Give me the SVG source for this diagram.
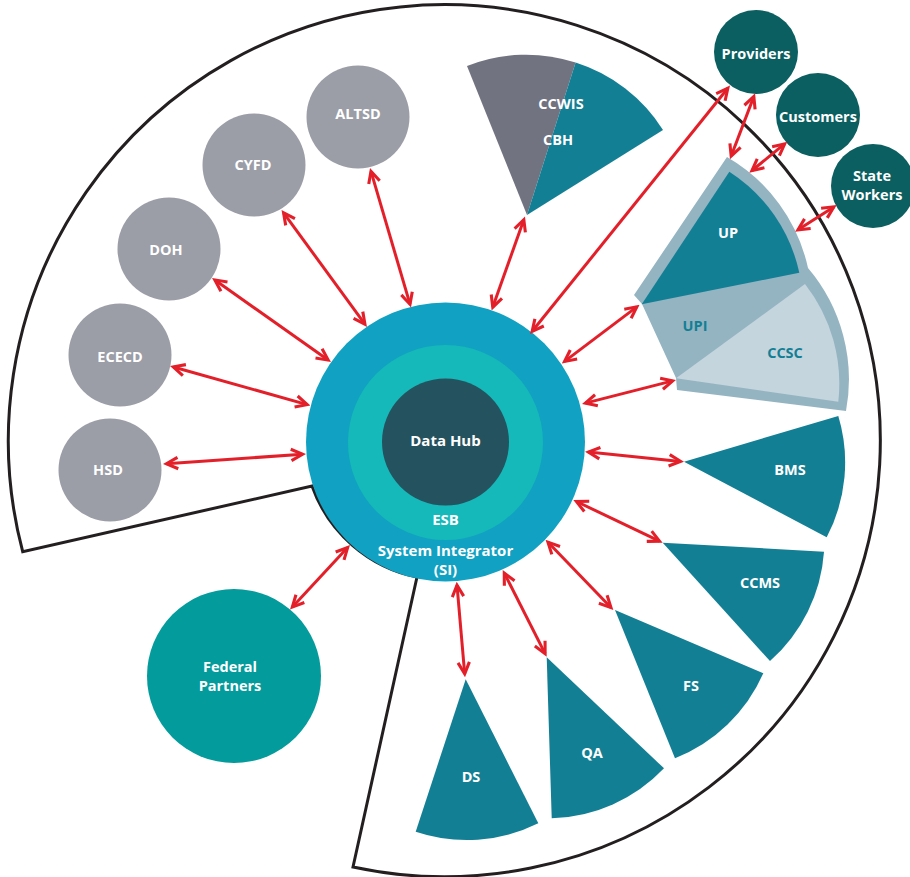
<svg xmlns="http://www.w3.org/2000/svg" width="910" height="877" viewBox="0 0 910 877">
<defs>
<style>
text{font-family:"Open Sans","Liberation Sans",sans-serif;font-weight:700;text-anchor:middle;fill:#ffffff;font-size:14.5px}
.hubt{font-size:15px}
.tl{fill:#137f94}
.agency{fill:#9b9da7}
.wedge{fill:#137f94}
.ext{fill:#0b5f60}
.conn line{stroke:#e3202a;stroke-width:3;marker-start:url(#ah);marker-end:url(#ah)}
</style>
<marker id="ah" viewBox="0 0 16 16" markerWidth="16" markerHeight="16" markerUnits="userSpaceOnUse" refX="12.5" refY="8" orient="auto-start-reverse">
<polygon points="16,8 1.8,0.9 0.4,3.7 9.3,8 0.4,12.3 1.8,15.1" fill="#e3202a"/>
</marker>
</defs>
<rect width="910" height="877" fill="#ffffff"/>
<path id="boundary" d="M22.7,551.7 A436,436 0 1 1 353,867 L417,577 A141,141 0 0 1 312,486 Z" fill="#ffffff" stroke="#231f20" stroke-width="3" stroke-linejoin="miter"/>

<g id="hub">
<circle cx="445.5" cy="442" r="139.5" fill="#11a1c2"/>
<circle cx="445.5" cy="442.5" r="97.5" fill="#15b9b9"/>
<circle cx="445.5" cy="442" r="63.5" fill="#24525e"/>
<text class="hubt" x="445.5" y="446">Data Hub</text>
<text class="hubt" x="445.5" y="525">ESB</text>
<text class="hubt" x="445.5" y="556">System Integrator</text>
<text class="hubt" x="445.5" y="575">(SI)</text>
</g>

<g id="altsd"><circle class="agency" cx="358" cy="117" r="51.5"/><text x="358" y="119">ALTSD</text></g>
<g id="cyfd"><circle class="agency" cx="254" cy="165" r="51.5"/><text x="253" y="170">CYFD</text></g>
<g id="doh"><circle class="agency" cx="169" cy="249" r="51.5"/><text x="166" y="255">DOH</text></g>
<g id="ececd"><circle class="agency" cx="120" cy="355" r="51.5"/><text x="120" y="362">ECECD</text></g>
<g id="hsd"><circle class="agency" cx="110" cy="470" r="51.5"/><text x="108" y="475">HSD</text></g>

<g id="federal"><circle cx="234" cy="676" r="87" fill="#039b9b"/><text x="230" y="672">Federal</text><text x="230" y="691">Partners</text></g>

<g id="providers"><circle class="ext" cx="756" cy="52" r="42"/><text x="756" y="59">Providers</text></g>
<g id="customers"><circle class="ext" cx="818" cy="115" r="42"/><text x="818" y="122">Customers</text></g>
<g id="stateworkers"><circle class="ext" cx="873" cy="186" r="42"/><text x="872" y="181">State</text><text x="872" y="200">Workers</text></g>

<g id="ccwis-cbh">
<path d="M527,215 L467,66 A160,160 0 0 1 575.6,62.6 Z" fill="#717380"/>
<path d="M527,215 L575.6,62.6 A160,160 0 0 1 663,130 Z" class="wedge"/>
<text x="561" y="109">CCWIS</text>
<text x="558" y="145">CBH</text>
</g>

<g id="up-group">
<path d="M634,295 L727,157 A170,170 0 0 1 808,268 A172,172 0 0 1 846,411 L677,390 L676,378 L642,304 Z" fill="#94b4c2"/>
<path d="M641.7,304.3 L729.3,171.7 A160,160 0 0 1 799.3,272.7 Z" class="wedge"/>
<path d="M676,378.3 L805,284 A162,162 0 0 1 838.3,401.7 Z" fill="#c5d5de"/>
<text x="728" y="238">UP</text>
<text class="tl" x="695" y="331">UPI</text>
<text class="tl" x="785" y="358">CCSC</text>
</g>

<g id="bms"><path class="wedge" d="M684,461.7 L838.3,416 A161,161 0 0 1 826.7,537.3 Z"/><text x="790" y="475">BMS</text></g>
<g id="ccms"><path class="wedge" d="M662.7,542.7 L824,551.7 A161,161 0 0 1 770,661 Z"/><text x="760" y="588">CCMS</text></g>
<g id="fs"><path class="wedge" d="M615,610 L763.3,673.3 A161,161 0 0 1 675,758.3 Z"/><text x="691" y="691">FS</text></g>
<g id="qa"><path class="wedge" d="M546.7,657.3 L664,768.3 A161,161 0 0 1 551.7,818.3 Z"/><text x="592" y="758">QA</text></g>
<g id="ds"><path class="wedge" d="M465.7,679.3 L538.3,823.3 A161,161 0 0 1 415.7,831.7 Z"/><text x="471" y="782">DS</text></g>

<g id="connectors" class="conn">
<line x1="166.5" y1="463.8" x2="302.5" y2="454.2"/>
<line x1="173.4" y1="367" x2="307.1" y2="404.6"/>
<line x1="214.9" y1="280" x2="328.1" y2="360"/>
<line x1="283.6" y1="212.8" x2="364.9" y2="324.2"/>
<line x1="371" y1="171.4" x2="410" y2="304.2"/>
<line x1="523.8" y1="219.7" x2="492.8" y2="307.1"/>
<line x1="727.8" y1="88.3" x2="532.2" y2="331.3"/>
<line x1="636.8" y1="306.9" x2="564.6" y2="361.4"/>
<line x1="672.6" y1="380.9" x2="585.4" y2="403.1"/>
<line x1="588.5" y1="452" x2="680.5" y2="461.4"/>
<line x1="576.5" y1="501.5" x2="659.5" y2="541.2"/>
<line x1="548" y1="542.2" x2="610.9" y2="607.5"/>
<line x1="504.3" y1="573.1" x2="545.1" y2="653.6"/>
<line x1="457" y1="585.2" x2="464.7" y2="673.8"/>
<line x1="347.6" y1="547.6" x2="292.4" y2="607"/>
<line x1="753.8" y1="96.6" x2="731.2" y2="156"/>
<line x1="784.6" y1="143.9" x2="752" y2="170.5"/>
<line x1="833.8" y1="206.9" x2="798" y2="229.8"/>
</g>
</svg>
